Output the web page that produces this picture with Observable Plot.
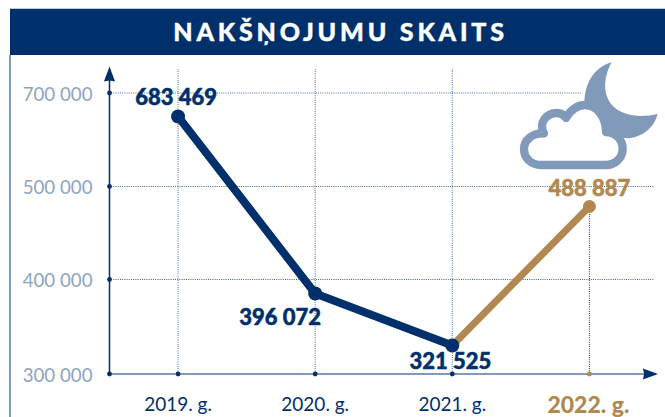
<!DOCTYPE html>
<html lang="lv">
<head>
<meta charset="utf-8">
<script src="https://cdn.jsdelivr.net/npm/d3@7"></script>
<script src="https://cdn.jsdelivr.net/npm/@observablehq/plot@0.6"></script>
<style>
html,body{margin:0;padding:0;background:#fff;overflow:hidden}
body{position:relative;width:665px;height:417px;font-family:Lato,sans-serif}
#title{box-sizing:border-box;margin:8px 0 0 10px;width:655px;height:47px;border-top:1px solid #c3cad4;background:#00306b;color:#fff;
font:900 25px/44px Lato,sans-serif;letter-spacing:3.8px;text-align:center;padding-left:6px;-webkit-text-stroke:0.4px #fff}
#edge{position:absolute;left:9px;top:55px;width:2px;height:362px;background:#829ab9}
svg{display:block}
</style>
</head>
<body>
<div id="title">NAKŠŅOJUMU SKAITS</div>
<div id="edge"></div>
<div id="chart"></div>
<script>
const years = [2019, 2020, 2021, 2022];
const values = [683469, 396072, 321525, 488887];
const yTicks = [300000, 400000, 500000, 700000];
const actualYears = [2019, 2020, 2021];
const forecastYears = [2022];

const navy = "#00306b", steel = "#829ab9", tan = "#b18850", gridBlue = "#24548f";
const fmt = n => String(n).replace(/\B(?=(\d{3})+$)/g, " ");
const rows = years.map((year, i) => ({year, value: values[i]}));
const navyRows = rows.slice(0, 3);
const tanRows = rows.slice(2);
const xLeft = 2018.5, xRight = 2022.5, yTop = 757000;

// The original's vertical axis is not to scale: each value sits where it was drawn.
const yDomain = [300000, 321525, 396072, 400000, 488887, 500000, 683469, 700000, yTop];
const yRange  = [318.5, 290, 238, 224, 151, 131, 61, 37.5, 11];

const upHead = {draw(c, size) {
  const s = Math.sqrt(size / Math.PI);
  c.moveTo(0, 0); c.lineTo(s * 0.37, s); c.lineTo(0, s * 0.93); c.lineTo(-s * 0.37, s); c.closePath();
}};
const rightHead = {draw(c, size) {
  const s = Math.sqrt(size / Math.PI);
  c.moveTo(0, 0); c.lineTo(-s, s * 0.37); c.lineTo(-s * 0.93, 0); c.lineTo(-s, -s * 0.37); c.closePath();
}};
const label = (row, dx, dy, color) => Plot.text([row], {x: "year", y: "value", text: d => fmt(d.value), dx, dy,
  fill: color, stroke: color, strokeWidth: 0.5, fontSize: 22, fontWeight: 900});

const plot = Plot.plot({
  width: 665, height: 362,
  marginLeft: 0, marginRight: 0, marginTop: 0, marginBottom: 0,
  style: {background: "transparent", fontFamily: "Lato, sans-serif", overflow: "visible"},
  x: {type: "linear", domain: [xLeft, xRight], range: [109, 657.5]},
  y: {type: "linear", domain: yDomain, range: yRange},
  marks: [
    Plot.ruleX(actualYears, {x: d => d, y1: 300000, y2: 750000, stroke: gridBlue, strokeOpacity: 0.7, strokeWidth: 1.2, strokeDasharray: "1 1.2"}),
    Plot.ruleX(forecastYears, {x: d => d, y1: 300000, y2: 480000, stroke: gridBlue, strokeWidth: 1.2, strokeDasharray: "1 1.2"}),
    Plot.ruleY([700000], {x1: xLeft, x2: 2021.95, y: d => d, stroke: gridBlue, strokeOpacity: 0.8, strokeWidth: 1.2, strokeDasharray: "1 1.2"}),
    Plot.ruleY([500000, 400000], {x1: xLeft, x2: 2022.47, y: d => d, stroke: gridBlue, strokeOpacity: 0.9, strokeWidth: 1.2, strokeDasharray: "1 1.2"}),
    Plot.ruleY([300000], {x1: xLeft, x2: 2022.42, y: d => d, stroke: steel, strokeWidth: 2}),
    Plot.ruleX([xLeft], {x: d => d, y1: 300000, y2: 740000, stroke: navy, strokeWidth: 1.5}),
    Plot.dot([{x: xLeft, y: yTop}], {x: "x", y: "y", r: 15, symbol: upHead, fill: navy, stroke: "none"}),
    Plot.dot([{x: xRight, y: 300000}], {x: "x", y: "y", r: 15, symbol: rightHead, fill: navy, stroke: "none"}),
    Plot.dot(yTicks, {x: xLeft, y: d => d, r: 2.4, fill: navy, stroke: "none"}),
    Plot.dot(actualYears, {x: d => d, y: 300000, r: 2.4, fill: navy, stroke: "none"}),
    Plot.dot(forecastYears, {x: d => d, y: 300000, r: 2.4, fill: tan, stroke: "none"}),
    Plot.line(tanRows, {x: "year", y: "value", stroke: tan, strokeWidth: 7}),
    Plot.line(navyRows, {x: "year", y: "value", stroke: navy, strokeWidth: 8}),
    Plot.dot(navyRows, {x: "year", y: "value", r: 7, fill: navy, stroke: "none"}),
    Plot.dot(rows.slice(3), {x: "year", y: "value", r: 6.5, fill: tan, stroke: "none"}),
    label(rows[0], -2, -19, navy),
    label(rows[1], -35, 24, navy),
    label(rows[2], -2, 16, navy),
    label(rows[3], 0, -18, tan),
    Plot.axisY({ticks: yTicks, tickSize: 0, tickPadding: 0, dx: -17, dy: 2, label: null, tickFormat: fmt, anchor: "left", x: xLeft,
      fill: "#8ea4c0", fontSize: 18.7, fontWeight: 400}),
    Plot.axisX({ticks: actualYears, tickSize: 0, tickPadding: 0, dy: 23, label: null, tickFormat: d => `${d}. g.`, anchor: "bottom", y: 300000,
      fill: navy, fontSize: 19, fontWeight: 400}),
    Plot.axisX({ticks: forecastYears, tickSize: 0, tickPadding: 0, dy: 23, dx: -1, label: null, tickFormat: d => `${d}. g.`, anchor: "bottom", y: 300000,
      fill: tan, stroke: tan, strokeWidth: 0.5, fontSize: 23, fontWeight: 900})
  ]
});

// Decorative moon and cloud (page y minus the 55px header).
const icon = d3.select(plot).append("g").attr("transform", "translate(0,-55)");
icon.append("path").attr("fill", steel)
  .attr("d", "M611.7 62.3C594 67 584 84 584.5 104L610 135L626 138.3C642 138 654 128 657.7 114C640 118 622 116 612 105C602 93 604 76 611.7 62.3Z");
icon.append("path").attr("fill", "#fff").attr("stroke", steel).attr("stroke-width", 8.3).attr("stroke-linejoin", "round")
  .attr("d", "M541 165C531 165 524 158 524 149C524 140 532 133 544 133.5C538 122 547 113 557 113C561 113 564 115 566 118C570 110 578 105 585 105C597 105 606 117 606 132C616 132 622.7 140 622.7 149C622.7 158 615 165 606 165Z");

document.getElementById("chart").append(plot);
</script>
</body>
</html>
